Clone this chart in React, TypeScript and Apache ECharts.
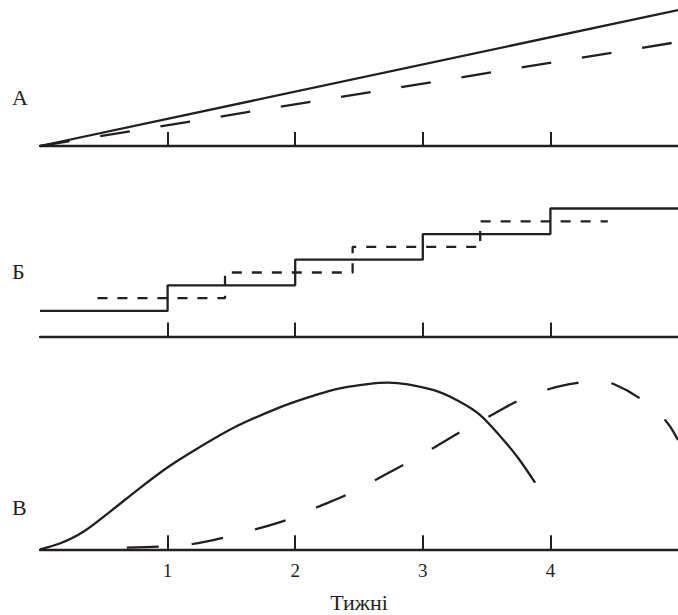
import React, { useEffect, useRef } from "react";
import * as echarts from "echarts";

// ---- data ----
const weekTicks = [1, 2, 3, 4];
const xMin = 0;
const xMax = 5;
const panelLabels = ["А", "Б", "В"];
const axisTitle = "Тижні";

// Panel А: linear growth
const aSolid = [
  [0, 0],
  [5, 100],
];
const aDashed = [
  [0, 0],
  [5, 76.5],
];

// Panel Б: step growth
const bSolid = [
  [0, 1],
  [1, 2],
  [2, 3],
  [3, 4],
  [4, 5],
  [5, 5],
];
const bDashed = [
  [0.45, 1.5],
  [1.45, 2.5],
  [2.45, 3.5],
  [3.45, 4.5],
  [4.45, 4.5],
];

// Panel В: rise and fall curves
const cSolid = [
  [0, 0],
  [0.16, 3.6],
  [0.34, 10.5],
  [0.55, 22.6],
  [0.78, 36.5],
  [0.99, 48.5],
  [1.15, 56.5],
  [1.51, 72.5],
  [1.86, 84.4],
  [2.12, 91.4],
  [2.35, 96.4],
  [2.73, 99.8],
  [3.08, 95.4],
  [3.29, 88.4],
  [3.45, 80.4],
  [3.61, 67.4],
  [3.74, 55.4],
  [3.88, 39.9],
];
const cDashed = [
  [0.68, 1],
  [0.93, 1.6],
  [1.2, 3.2],
  [1.44, 7],
  [1.69, 12],
  [1.93, 17.5],
  [2.18, 25.5],
  [2.4, 32.5],
  [2.64, 42],
  [2.86, 51],
  [3.09, 61],
  [3.3, 70.5],
  [3.53, 80],
  [3.75, 89],
  [3.99, 96],
  [4.2, 99.5],
  [4.37, 100.6],
  [4.5, 98.8],
  [4.72, 89.4],
  [4.91, 76.4],
  [5.0, 65.4],
];
const yMaxes = [100, 5, 100];

// ---- styles ----
const INK = "#231f20";
const SERIF = '"Liberation Serif", "DejaVu Serif", serif';

function buildOption() {
  const grids = [
    { left: 40, right: 0, top: 10, height: 136 },
    { left: 40, right: 0, top: 208.5, height: 128 },
    { left: 40, right: 0, top: 382.3, height: 167 },
  ];
  const xAxes = grids.map((_, i) => ({
    type: "value",
    gridIndex: i,
    min: xMin,
    max: xMax,
    interval: 1,
    axisLine: { show: true, onZero: false, lineStyle: { color: INK, width: 2.3 } },
    axisTick: {
      show: true,
      inside: true,
      length: 14,
      customValues: weekTicks,
      lineStyle: { color: INK, width: 2 },
    },
    axisLabel: {
      show: i === 2,
      customValues: weekTicks,
      margin: 12,
      fontSize: 19,
      fontFamily: SERIF,
      color: INK,
    },
    splitLine: { show: false },
    ...(i === 2
      ? {
          name: axisTitle,
          nameLocation: "middle",
          nameGap: 42,
          nameTextStyle: { fontSize: 22, fontFamily: SERIF, color: INK },
        }
      : {}),
  }));
  const yAxes = grids.map((_, i) => ({
    type: "value",
    gridIndex: i,
    min: 0,
    max: yMaxes[i],
    show: false,
  }));
  const line = (data: number[][], idx: number, dash: number[] | null, extra: any = {}) => ({
    type: "line",
    data,
    xAxisIndex: idx,
    yAxisIndex: idx,
    showSymbol: false,
    symbol: "none",
    clip: false,
    lineStyle: {
      color: INK,
      width: 2.3,
      type: dash ? dash : "solid",
      cap: "butt",
    },
    ...extra,
  });
  const labelY = [97.5, 271, 507];
  return {
    animation: false,
    backgroundColor: "#ffffff",
    grid: grids,
    xAxis: xAxes,
    yAxis: yAxes,
    graphic: panelLabels.map((t, i) => ({
      type: "text",
      x: 12,
      y: labelY[i],
      style: {
        text: t,
        fill: INK,
        font: `22px ${SERIF}`,
        verticalAlign: "middle",
        align: "left",
      },
    })),
    series: [
      line(aSolid, 0, null),
      line(aDashed, 0, [30, 31]),
      line(bSolid, 1, null, { step: "end" }),
      line(bDashed, 1, [10, 10], { step: "end" }),
      line(cSolid, 2, null, { smooth: 0.33 }),
      line(cDashed, 2, [32, 33], { smooth: 0.33 }),
    ],
  };
}

export default function App() {
  const ref = useRef<HTMLDivElement>(null);
  useEffect(() => {
    if (!ref.current) return;
    const chart = echarts.init(ref.current, null, { renderer: "svg" });
    chart.setOption(buildOption() as any);
    return () => chart.dispose();
  }, []);
  return (
    <div
      ref={ref}
      style={{ position: "absolute", left: 0, top: 0, width: 678, height: 615, background: "#fff" }}
    />
  );
}
